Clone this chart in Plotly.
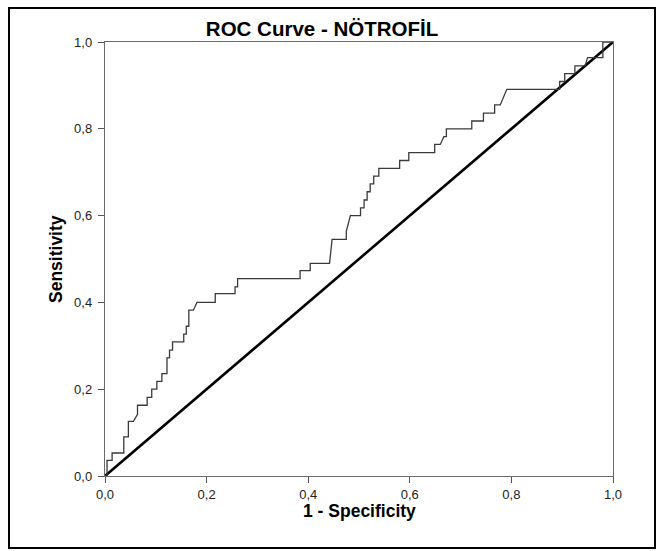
import plotly.graph_objects as go

# ROC curve points (1 - Specificity, Sensitivity)
fpr = [0, 0.004, 0.004, 0.014, 0.014, 0.037, 0.037, 0.046, 0.046, 0.056, 0.064, 0.064,
       0.083, 0.083, 0.092, 0.092, 0.102, 0.102, 0.112, 0.112, 0.122, 0.122, 0.127, 0.127,
       0.133, 0.133, 0.155, 0.155, 0.160, 0.160, 0.165, 0.165, 0.174, 0.181, 0.217, 0.217,
       0.256, 0.256, 0.261, 0.261, 0.384, 0.384, 0.404, 0.404, 0.442, 0.447, 0.475, 0.475,
       0.483, 0.503, 0.503, 0.510, 0.510, 0.516, 0.516, 0.522, 0.522, 0.529, 0.529, 0.539,
       0.539, 0.580, 0.580, 0.598, 0.598, 0.649, 0.649, 0.660, 0.667, 0.672, 0.672, 0.722,
       0.722, 0.745, 0.745, 0.767, 0.767, 0.778, 0.791, 0.895, 0.895, 0.905, 0.905, 0.925,
       0.925, 0.945, 0.950, 0.980, 0.980, 1.0]
tpr = [0, 0, 0.036, 0.036, 0.053, 0.053, 0.090, 0.090, 0.126, 0.126, 0.142, 0.163,
       0.163, 0.181, 0.181, 0.200, 0.200, 0.218, 0.218, 0.236, 0.236, 0.272, 0.272, 0.290,
       0.290, 0.309, 0.309, 0.327, 0.327, 0.345, 0.345, 0.382, 0.382, 0.400, 0.400, 0.420,
       0.420, 0.436, 0.436, 0.455, 0.455, 0.473, 0.473, 0.490, 0.490, 0.545, 0.545, 0.564,
       0.600, 0.600, 0.618, 0.618, 0.636, 0.636, 0.655, 0.655, 0.673, 0.673, 0.691, 0.691,
       0.709, 0.709, 0.727, 0.727, 0.745, 0.745, 0.764, 0.764, 0.782, 0.782, 0.800, 0.800,
       0.818, 0.818, 0.836, 0.836, 0.855, 0.855, 0.891, 0.891, 0.909, 0.909, 0.927, 0.927,
       0.945, 0.945, 0.964, 0.964, 1.0, 1.0]
ref_x = [0, 1]
ref_y = [0, 1]
tick_vals = [0, 0.2, 0.4, 0.6, 0.8, 1.0]
tick_text = ["0,0", "0,2", "0,4", "0,6", "0,8", "1,0"]

W, H = 661, 551
ML, MR, MT, MB = 105, 48, 42, 75
pw = W - ML - MR
ph = H - MT - MB
FONT = "Liberation Sans, Arial"

def px2paper_x(px):
    return (px - ML) / pw

def px2paper_y(py):
    return (H - MB - py) / ph

fig = go.Figure()
fig.add_trace(go.Scatter(x=ref_x, y=ref_y, mode="lines",
                         line=dict(color="black", width=2.6), hoverinfo="skip"))
fig.add_trace(go.Scatter(x=fpr, y=tpr, mode="lines",
                         line=dict(color="#3a3a3a", width=1.3)))

axis_common = dict(range=[0, 1], tickvals=tick_vals, ticktext=tick_text,
                   showgrid=False, zeroline=False, showline=True, mirror=True,
                   linecolor="#6a6a6a", linewidth=1.4, ticks="outside", ticklen=6,
                   tickcolor="#555555", tickwidth=1.2,
                   tickfont=dict(family=FONT, size=13, color="#222222"))

fig.update_layout(
    width=W, height=H,
    margin=dict(l=ML, r=MR, t=MT, b=MB),
    paper_bgcolor="white", plot_bgcolor="white",
    showlegend=False,
    title=dict(text="<b>ROC Curve - NÖTROFİL</b>", x=322 / W, xanchor="center",
               y=1 - 29 / H, yanchor="middle",
               font=dict(family=FONT, size=20.5, color="black")),
    xaxis=dict(**axis_common),
    yaxis=dict(**axis_common, ticklabelstandoff=3),
    annotations=[
        dict(text="<b>1 - Specificity</b>", xref="paper", yref="paper",
             x=0.5, y=px2paper_y(511), xanchor="center", yanchor="middle",
             showarrow=False, font=dict(family=FONT, size=17.5, color="black")),
        dict(text="<b>Sensitivity</b>", xref="paper", yref="paper",
             x=px2paper_x(56), y=0.5, xanchor="center", yanchor="middle",
             textangle=-90, showarrow=False,
             font=dict(family=FONT, size=17.5, color="black")),
    ],
    shapes=[dict(type="rect", xref="paper", yref="paper",
                 x0=px2paper_x(9), x1=px2paper_x(655),
                 y0=px2paper_y(548), y1=px2paper_y(8),
                 line=dict(color="black", width=2), fillcolor="rgba(0,0,0,0)", layer="below")],
)

fig.write_html("out.html")
